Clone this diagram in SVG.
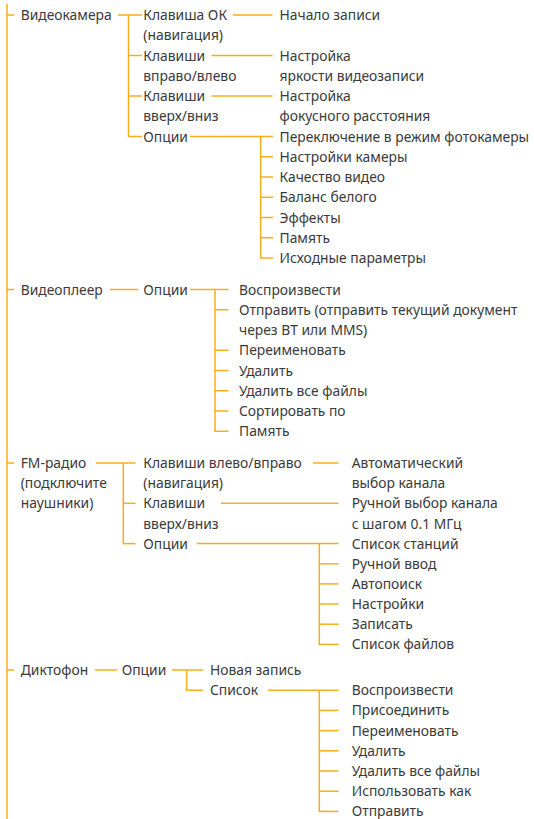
<svg xmlns="http://www.w3.org/2000/svg" width="534" height="819" viewBox="0 0 534 819">
<style>
text{font-family:"Noto Sans","Open Sans","DejaVu Sans",sans-serif;font-size:13.85px;fill:#3a3a3a}
.c line,.c path{stroke:#f8ad1d;stroke-width:1.5;fill:none}
</style>
<rect width="534" height="819" fill="#ffffff"/>
<g class="c" id="connectors">
<line x1="7" y1="4" x2="7" y2="819"/>
<line x1="7" y1="15" x2="14" y2="15"/>
<line x1="7" y1="289.5" x2="14" y2="289.5"/>
<line x1="7" y1="463" x2="14" y2="463"/>
<line x1="7" y1="670" x2="14" y2="670"/>
<!-- Section 1 -->
<line x1="118" y1="15" x2="142" y2="15"/>
<path d="M128.5 15V136.5"/>
<line x1="128.5" y1="55.5" x2="142" y2="55.5"/>
<line x1="128.5" y1="96" x2="142" y2="96"/>
<line x1="128.5" y1="136.5" x2="142" y2="136.5"/>
<line x1="233" y1="15" x2="272.5" y2="15"/>
<line x1="211.5" y1="55.5" x2="272.5" y2="55.5"/>
<line x1="211.5" y1="96" x2="272.5" y2="96"/>
<line x1="190" y1="136.5" x2="273" y2="136.5"/>
<path d="M260.7 136.5V258"/>
<line x1="260.7" y1="156.75" x2="273" y2="156.75"/>
<line x1="260.7" y1="177" x2="273" y2="177"/>
<line x1="260.7" y1="197.25" x2="273" y2="197.25"/>
<line x1="260.7" y1="217.5" x2="273" y2="217.5"/>
<line x1="260.7" y1="237.75" x2="273" y2="237.75"/>
<line x1="260" y1="258" x2="273" y2="258"/>
<!-- Section 2 -->
<line x1="110" y1="289.5" x2="138" y2="289.5"/>
<line x1="190" y1="289.5" x2="228.5" y2="289.5"/>
<path d="M215 289.5V431.25"/>
<line x1="215" y1="309.75" x2="228.5" y2="309.75"/>
<line x1="215" y1="350.25" x2="228.5" y2="350.25"/>
<line x1="215" y1="370.5" x2="228.5" y2="370.5"/>
<line x1="215" y1="390.75" x2="228.5" y2="390.75"/>
<line x1="215" y1="411" x2="228.5" y2="411"/>
<line x1="214.3" y1="431.25" x2="228.5" y2="431.25"/>
<!-- Section 3 -->
<line x1="96" y1="463" x2="135.5" y2="463"/>
<path d="M123.3 463V543.6"/>
<line x1="123.3" y1="503.3" x2="135.5" y2="503.3"/>
<line x1="122.6" y1="543.6" x2="135.5" y2="543.6"/>
<line x1="313" y1="463" x2="338.5" y2="463"/>
<line x1="221" y1="503.3" x2="338.5" y2="503.3"/>
<line x1="196.7" y1="543.6" x2="338.5" y2="543.6"/>
<path d="M319.3 543.6V644.4"/>
<line x1="319.3" y1="563.8" x2="338.5" y2="563.8"/>
<line x1="319.3" y1="583.9" x2="338.5" y2="583.9"/>
<line x1="319.3" y1="604" x2="338.5" y2="604"/>
<line x1="319.3" y1="624.2" x2="338.5" y2="624.2"/>
<line x1="318.6" y1="644.4" x2="338.5" y2="644.4"/>
<!-- Section 4 -->
<line x1="95" y1="670" x2="117" y2="670"/>
<line x1="172" y1="670" x2="203" y2="670"/>
<path d="M186.7 670V690.2"/>
<line x1="186" y1="690.2" x2="203" y2="690.2"/>
<line x1="268" y1="690.2" x2="338.5" y2="690.2"/>
<path d="M319.3 690.2V811.4"/>
<line x1="319.3" y1="710.4" x2="338.5" y2="710.4"/>
<line x1="319.3" y1="730.6" x2="338.5" y2="730.6"/>
<line x1="319.3" y1="750.8" x2="338.5" y2="750.8"/>
<line x1="319.3" y1="771" x2="338.5" y2="771"/>
<line x1="319.3" y1="791.2" x2="338.5" y2="791.2"/>
<line x1="318.6" y1="811.4" x2="338.5" y2="811.4"/>
</g>
<!-- Section 1 nodes -->
<g id="n-videocamera"><text x="20.7" y="20">Видеокамера</text></g>
<g id="n-ok"><text x="143.3" y="20">Клавиша ОК</text><text x="143.3" y="40.25">(навигация)</text></g>
<g id="n-lr"><text x="143.3" y="60.5">Клавиши</text><text x="143.3" y="80.75">вправо/влево</text></g>
<g id="n-ud"><text x="143.3" y="101">Клавиши</text><text x="143.3" y="121.25">вверх/вниз</text></g>
<g id="n-opt1"><text x="143.3" y="141.5">Опции</text></g>
<g id="n-rec"><text x="279.5" y="20">Начало записи</text></g>
<g id="n-bright"><text x="279.5" y="60.5">Настройка</text><text x="279.5" y="80.75">яркости видеозаписи</text></g>
<g id="n-focus"><text x="279.5" y="101">Настройка</text><text x="279.5" y="121.25">фокусного расстояния</text></g>
<g id="n-photo"><text x="279.5" y="141.5">Переключение в режим фотокамеры</text></g>
<g id="n-camset"><text x="279.5" y="161.75">Настройки камеры</text></g>
<g id="n-quality"><text x="279.5" y="182">Качество видео</text></g>
<g id="n-wb"><text x="279.5" y="202.25">Баланс белого</text></g>
<g id="n-fx"><text x="279.5" y="222.5">Эффекты</text></g>
<g id="n-mem1"><text x="279.5" y="242.75">Память</text></g>
<g id="n-reset"><text x="279.5" y="263">Исходные параметры</text></g>
<!-- Section 2 nodes -->
<g id="n-videoplayer"><text x="20.7" y="294.5">Видеоплеер</text></g>
<g id="n-opt2"><text x="143.3" y="294.5">Опции</text></g>
<g id="n-play2"><text x="239" y="294.5">Воспроизвести</text></g>
<g id="n-send2"><text x="239" y="314.75">Отправить (отправить текущий документ</text><text x="239" y="335">через BT или MMS)</text></g>
<g id="n-rename2"><text x="239" y="355.25">Переименовать</text></g>
<g id="n-del2"><text x="239" y="375.5">Удалить</text></g>
<g id="n-delall2"><text x="239" y="395.75">Удалить все файлы</text></g>
<g id="n-sort2"><text x="239" y="416">Сортировать по</text></g>
<g id="n-mem2"><text x="239" y="436.25">Память</text></g>
<!-- Section 3 nodes -->
<g id="n-fm"><text x="20.7" y="468">FM-радио</text><text x="20.7" y="488.2">(подключите</text><text x="20.7" y="508.3">наушники)</text></g>
<g id="n-fmlr"><text x="143.3" y="468">Клавиши влево/вправо</text><text x="143.3" y="488.2">(навигация)</text></g>
<g id="n-fmud"><text x="143.3" y="508.3">Клавиши</text><text x="143.3" y="528.5">вверх/вниз</text></g>
<g id="n-opt3"><text x="143.3" y="548.6">Опции</text></g>
<g id="n-auto"><text x="351.7" y="468">Автоматический</text><text x="351.7" y="488.2">выбор канала</text></g>
<g id="n-manual"><text x="351.7" y="508.3">Ручной выбор канала</text><text x="351.7" y="528.5">с шагом 0.1 МГц</text></g>
<g id="n-stations"><text x="351.7" y="548.6">Список станций</text></g>
<g id="n-input"><text x="351.7" y="568.8">Ручной ввод</text></g>
<g id="n-autosearch"><text x="351.7" y="588.9">Автопоиск</text></g>
<g id="n-fmset"><text x="351.7" y="609">Настройки</text></g>
<g id="n-fmrec"><text x="351.7" y="629.2">Записать</text></g>
<g id="n-fmfiles"><text x="351.7" y="649.4">Список файлов</text></g>
<!-- Section 4 nodes -->
<g id="n-dict"><text x="20.7" y="675">Диктофон</text></g>
<g id="n-opt4"><text x="121.7" y="675">Опции</text></g>
<g id="n-new"><text x="210" y="675">Новая запись</text></g>
<g id="n-list"><text x="210" y="695.2">Список</text></g>
<g id="n-play4"><text x="351.7" y="695.2">Воспроизвести</text></g>
<g id="n-join"><text x="351.7" y="715.4">Присоединить</text></g>
<g id="n-rename4"><text x="351.7" y="735.6">Переименовать</text></g>
<g id="n-del4"><text x="351.7" y="755.8">Удалить</text></g>
<g id="n-delall4"><text x="351.7" y="776">Удалить все файлы</text></g>
<g id="n-use"><text x="351.7" y="796.2">Использовать как</text></g>
<g id="n-send4"><text x="351.7" y="816">Отправить</text></g>
</svg>
